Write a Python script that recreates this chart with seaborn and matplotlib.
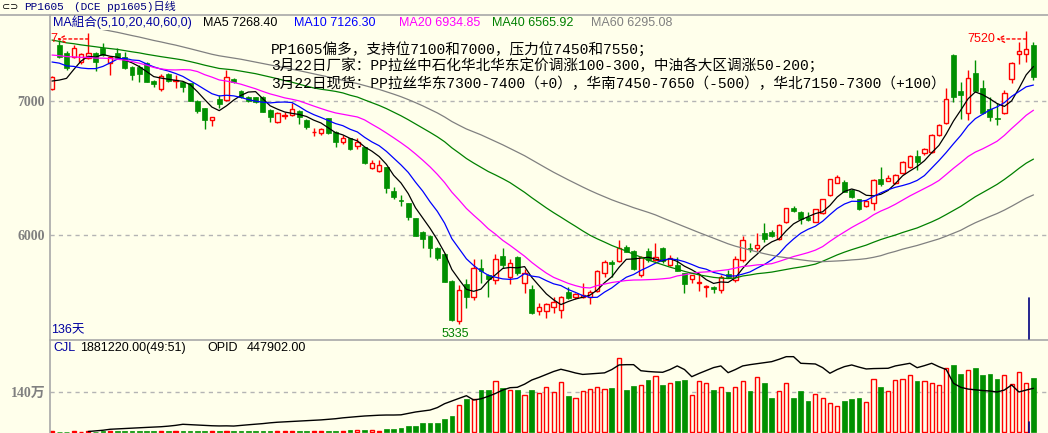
import numpy as np
import pandas as pd
import matplotlib
matplotlib.use("Agg")
import matplotlib.pyplot as plt
from matplotlib.lines import Line2D
import seaborn as sns

sns.set_theme(style="white")
plt.rcParams['font.family'] = ['Liberation Sans', 'Noto Sans CJK SC', 'DejaVu Sans']

# ---------------- data ----------------
open_ = [7087,7418,7356,7326,7293,7319,7356,7393,7281,7360,
 7326,7256,7256,7281,7152,7087,7201,7152,7144,7132,
 7002,6945,6858,7015,7007,7164,7077,7027,7027,7032,
 6933,6845,6890,6895,6925,6858,6768,6759,6871,6771,
 6696,6722,6664,6654,6498,6480,6505,6331,6260,6236,
 6125,6025,5993,5905,5858,5659,5358,5634,5535,5751,
 5701,5664,5843,5689,5834,5639,5595,5435,5435,5460,
 5440,5572,5535,5535,5535,5584,5714,5801,5808,5913,
 5883,5701,5883,5813,5901,5776,5776,5714,5669,5640,
 5612,5609,5590,5709,5664,5813,5905,5901,6013,6025,
 5968,6099,6199,6174,6132,6099,6166,6298,6390,6398,
 6336,6266,6216,6236,6418,6405,6386,6465,6510,6590,
 6610,6617,6746,6838,7343,7077,6908,7211,7095,6938,
 6875,6908,7162,7351,7351,7418]
high = [7185,7455,7375,7418,7360,7505,7365,7435,7330,7393,
 7368,7262,7269,7290,7160,7201,7210,7194,7150,7135,
 7005,6950,6882,7045,7231,7172,7085,7035,7030,7040,
 6940,6915,6915,6987,6930,6862,6796,6800,6875,6775,
 6745,6726,6722,6660,6560,6560,6510,6356,6298,6240,
 6128,6030,5998,5910,5862,5662,5627,5672,5819,5819,
 5712,5856,5901,5819,5840,5744,5627,5490,5490,5540,
 5545,5614,5570,5639,5590,5740,5810,5813,5963,5925,
 5890,5840,5901,5942,5910,5850,5834,5720,5705,5714,
 5625,5620,5700,5740,5840,5993,5940,6013,6092,6040,
 6080,6205,6215,6180,6175,6195,6270,6420,6448,6410,
 6345,6272,6262,6418,6510,6448,6455,6555,6598,6634,
 6648,6752,6830,7095,7350,7144,7231,7306,7157,7027,
 6983,7082,7293,7443,7520,7443]
low = [7080,7320,7231,7320,7276,7310,7226,7335,7194,7310,
 7240,7157,7144,7140,7102,7077,7145,7095,7070,6998,
 6910,6789,6813,6948,7000,7134,7020,6995,6985,6915,
 6845,6838,6866,6890,6828,6789,6739,6750,6755,6659,
 6680,6636,6640,6530,6490,6470,6316,6266,6216,6112,
 5990,5901,5834,5813,5648,5360,5335,5453,5515,5644,
 5540,5634,5751,5634,5700,5565,5410,5403,5378,5420,
 5378,5520,5525,5530,5485,5578,5690,5684,5800,5870,
 5740,5690,5800,5805,5790,5770,5730,5569,5640,5584,
 5540,5570,5570,5680,5650,5800,5870,5880,5945,5985,
 5960,6090,6170,6080,6105,6095,6160,6290,6385,6318,
 6275,6185,6210,6187,6366,6400,6380,6455,6500,6485,
 6600,6610,6740,6830,6993,6863,6858,7070,6905,6853,
 6821,6900,7132,7276,7293,7157]
close = [7177,7326,7244,7393,7351,7356,7293,7343,7326,7319,
 7244,7194,7201,7144,7127,7189,7152,7159,7107,7002,
 6928,6858,6878,6975,7181,7144,7032,7002,6990,6920,
 6878,6908,6895,6938,6878,6804,6771,6789,6759,6696,
 6722,6640,6696,6535,6535,6522,6348,6286,6252,6137,
 5993,5968,5901,5826,5651,5366,5590,5540,5751,5734,
 5672,5819,5776,5789,5719,5719,5415,5465,5485,5498,
 5540,5528,5560,5552,5577,5731,5801,5781,5905,5875,
 5744,5834,5813,5834,5808,5826,5734,5634,5701,5647,
 5616,5595,5689,5684,5819,5963,5895,5925,5968,5993,
 6075,6199,6181,6117,6112,6191,6266,6416,6431,6323,
 6281,6191,6256,6410,6381,6423,6448,6547,6590,6547,
 6640,6746,6821,7015,7032,7045,7169,7077,6913,6878,
 6868,7062,7286,7375,7386,7177]
# closes of the days before the visible window (needed for the moving averages)
prior_close = [8120,8080,8150,8060,8010,7990,8040,7960,7930,7980,
 7900,7870,7920,7880,7850,7890,7840,7900,7820,7760,
 7720,7680,7650,7700,7620,7590,7640,7580,7560,7610,
 7540,7520,7560,7500,7530,7470,7490,7450,7480,7440,
 7420,7380,7450,7400,7360,7410,7350,7390,7420,7370,
 7410,7450,7430,7470,7405,
 7290,7180,7060,7038]
# volume (thousand lots)
vol_k = [40,10,10,40,15,20,15,20,40,40,
 40,40,40,45,40,25,25,40,40,40,
 45,45,40,40,45,20,40,20,45,45,
 45,45,40,45,45,45,45,45,50,50,
 50,70,70,70,70,50,115,115,150,210,
 210,315,315,315,443,560,933,1155,1155,1470,
 1470,1785,1530,1470,1470,1295,1470,1355,1560,1400,
 1740,1260,1180,1420,1490,1560,1490,1540,2580,1470,
 1610,1645,1820,1950,1645,1700,1785,1820,1280,1785,
 1700,1470,1560,1400,1560,1800,1435,1910,1715,1190,
 1420,1700,1190,1435,1085,1320,1180,1000,900,1085,
 1155,1190,1050,1840,1575,1420,1820,1840,2000,1785,
 1785,1715,1645,2230,2345,2040,2160,2240,2005,2040,
 1855,2000,1680,2090,1715,1881.22]
# open interest (thousand lots); None = not drawn
opid_k = [None,None,None,None,None,5,12,18,28,32,
 36,40,44,47,50,54,60,68,79,75,
 70,66,64,62,63,61,68,74,80,86,
 94,100,104,108,112,116,120,124,130,136,
 145,152,158,164,168,172,174,174,176,190,
 205,215,225,250,290,318,345,372,328,340,
 365,395,430,454,458,490,533,560,590,620,
 643,625,605,590,595,600,606,640,687,690,
 690,628,620,615,612,640,677,640,567,600,
 630,660,677,608,640,677,690,700,710,721,
 745,772,772,704,700,697,660,602,640,670,
 687,665,646,650,652,653,677,690,704,659,
 680,704,669,640,499,458,440,432,425,420,
 410,430,482,410,430,447.902]

ma_windows = [5, 10, 20, 40, 60]
ma_colors = ['#000000', '#0000FF', '#FF00FF', '#008000', '#808080']
ma_labels = ['MA5 7268.40', 'MA10 7126.30', 'MA20 6934.85', 'MA40 6565.92', 'MA60 6295.08']
price_ticks = [6000, 7000]
price_ticklabels = ['6000', '7000']

# ---------------- figure ----------------
W, H = 1048, 433
BG = '#FFFFEB'
RED = '#FF0000'
GREEN = '#009000'
AXC = '#A8A8A8'

fig = plt.figure(figsize=(W / 100, H / 100), dpi=100)
fig.patch.set_facecolor(BG)

def fy(py):
    return 1 - py / H

# price panel: pixel rows 30..339 ; volume panel: rows 339..433
ax = fig.add_axes([50 / W, fy(339), 998 / W, (339 - 30) / H])
axv = fig.add_axes([50 / W, 0, 998 / W, (433 - 339) / H])
axo = fig.add_axes([50 / W, 0, 998 / W, (433 - 339) / H], frameon=False)
for a in (ax, axv):
    a.set_facecolor(BG)

n = len(close)
idx = np.arange(n)
o = np.array(open_, float); h = np.array(high, float)
l = np.array(low, float); c = np.array(close, float)
up = c >= o
blo = np.minimum(o, c); bhi = np.maximum(o, c)
hgt = np.maximum(bhi - blo, 1.5)

# candles
ax.vlines(idx[up], bhi[up], h[up], color=RED, lw=1, zorder=2)
ax.vlines(idx[up], l[up], blo[up], color=RED, lw=1, zorder=2)
ax.vlines(idx[~up], l[~up], h[~up], color=GREEN, lw=1, zorder=2)
ax.bar(idx[up], hgt[up], bottom=blo[up], width=0.6, facecolor=BG,
       edgecolor=RED, linewidth=1, zorder=2)
ax.bar(idx[~up], hgt[~up], bottom=blo[~up], width=0.66, facecolor=GREEN,
       edgecolor=GREEN, linewidth=0.5, zorder=2)

# moving averages
full = pd.Series(list(prior_close) + list(close), dtype=float)
off = len(prior_close)
for win, col in zip(ma_windows, ma_colors):
    ma = full.rolling(win).mean().iloc[off:].to_numpy()
    sns.lineplot(x=idx, y=ma, ax=ax, color=col, linewidth=0.9, zorder=3)

ax.set_xlim(-0.275, 137.0)
ax.set_ylim(5223.9, 7529.9)
for t in price_ticks:
    ax.axhline(t, color='#B4B4B4', lw=1, ls=(0, (3, 3)), zorder=1)
ax.set_yticks(price_ticks)
ax.set_yticklabels(price_ticklabels)
ax.tick_params(axis='y', length=0, pad=3.5, labelsize=10, labelcolor='#808080')
for lab in ax.get_yticklabels():
    lab.set_fontfamily(['Liberation Serif', 'Noto Sans CJK SC'])
    lab.set_fontweight('bold')
ax.set_xticks([])
for s in ax.spines.values():
    s.set_visible(False)

# high / low marks
ax.annotate('', xy=(129.9, high[134] - 57), xytext=(134, high[134] - 57),
            arrowprops=dict(arrowstyle='->', color=RED, lw=1, ls=(0, (2, 2)),
                            shrinkA=0, shrinkB=0))
ax.text(129.7, high[134] - 57, '7520', color=RED, fontsize=9, ha='right', va='center')
ax.annotate('', xy=(0.7, high[5] - 42), xytext=(5, high[5] - 42),
            arrowprops=dict(arrowstyle='->', color=RED, lw=1, ls=(0, (2, 2)),
                            shrinkA=0, shrinkB=0))
ax.text(-0.28, high[5] - 42, '7', color=RED, fontsize=9, ha='left', va='center')
ax.text(56 - 0.55, min(low) - 75, '5335', color='#008000', fontsize=9,
        ha='center', va='center')

# volume panel
vol = np.array(vol_k, float) * 1000
axv.bar(idx[up], vol[up], width=0.58, facecolor=BG, edgecolor=RED, linewidth=1, zorder=2)
axv.bar(idx[~up], vol[~up], width=0.64, facecolor=GREEN, edgecolor=GREEN,
        linewidth=0.5, zorder=2)
axv.axhline(1400000, color='#B4B4B4', lw=1, ls=(0, (3, 3)), zorder=1)
axv.set_xlim(-0.275, 137.0)
axv.set_ylim(-35000, 3255000)
axv.set_yticks([1400000])
axv.set_yticklabels(['140万'])
axv.tick_params(axis='y', length=0, pad=3.5, labelsize=10, labelcolor='#808080')
for lab in axv.get_yticklabels():
    lab.set_fontfamily(['Liberation Serif', 'Noto Sans CJK SC'])
    lab.set_fontweight('bold')
axv.set_xticks([])
for s in axv.spines.values():
    s.set_visible(False)

op = pd.DataFrame({'i': idx, 'opid': [np.nan if v is None else v * 1000 for v in opid_k]}).dropna()
sns.lineplot(data=op, x='i', y='opid', ax=axo, color='black', linewidth=1)
axo.set_xlim(-0.275, 137.0)
axo.set_ylim(-10250, 953000)
axo.set_xticks([]); axo.set_yticks([])
axo.set_xlabel(''); axo.set_ylabel('')
ax.set_xlabel(''); ax.set_ylabel('')

# frame lines
def hline(y, x0, x1, col=AXC, lw=1.2):
    fig.add_artist(Line2D([x0 / W, x1 / W], [fy(y), fy(y)], color=col, lw=lw))
def vline(x, y0, y1, col=AXC, lw=1.2):
    fig.add_artist(Line2D([x / W, x / W], [fy(y0), fy(y1)], color=col, lw=lw))
hline(15, 0, W)
hline(339.5, 50, W)
vline(50, 15, H)
vline(1029.3, 298, 339, col='#000080', lw=1.2)
vline(1029.3, 422, 433, col='#000080', lw=1.2)

# texts
def ftext(x, y, s, **kw):
    kw.setdefault('va', 'center')
    fig.text(x / W, fy(y), s, **kw)

ftext(2, 7, '⊂⊃', color='#000000', fontsize=7, family=['DejaVu Sans'])
ftext(24, 7, 'PP1605', color='#000080', fontsize=8, family=['Liberation Mono', 'Noto Sans CJK SC'])
ftext(74, 7, '(DCE pp1605)日线', color='#000080', fontsize=8,
      family=['Liberation Mono', 'Noto Sans CJK SC'])

ftext(53, 22.5, 'MA組合(5,10,20,40,60,0)', color='#0000A0', fontsize=9,
      family=['Liberation Sans', 'Noto Sans CJK TC'])
for xp, lab, col in zip([203, 294, 399, 492, 591], ma_labels, ma_colors):
    ftext(xp, 22.5, lab, color=col, fontsize=9)

note_font = ['Liberation Mono', 'Noto Sans CJK SC']
ftext(271, 50, 'PP1605偏多，支持位7100和7000，压力位7450和7550；', color='black',
      fontsize=10.5, family=note_font)
ftext(271, 66.5, '3月22日厂家：PP拉丝中石化华北华东定价调涨100-300，中油各大区调涨50-200；',
      color='black', fontsize=10.5, family=note_font)
ftext(271, 83.5, '3月22日现货：PP拉丝华东7300-7400（+0），华南7450-7650（-500），华北7150-7300（+100）',
      color='black', fontsize=10.5, family=note_font)

ftext(51, 330, '136天', color='#0000A0', fontsize=9)
ftext(53, 348, 'CJL', color='#0000A0', fontsize=9)
ftext(80, 348, '1881220.00(49:51)', color='black', fontsize=9)
ftext(207, 348, 'OPID', color='black', fontsize=9)
ftext(247, 348, '447902.00', color='black', fontsize=9)

fig.savefig('out.png', dpi=100, facecolor=BG)
